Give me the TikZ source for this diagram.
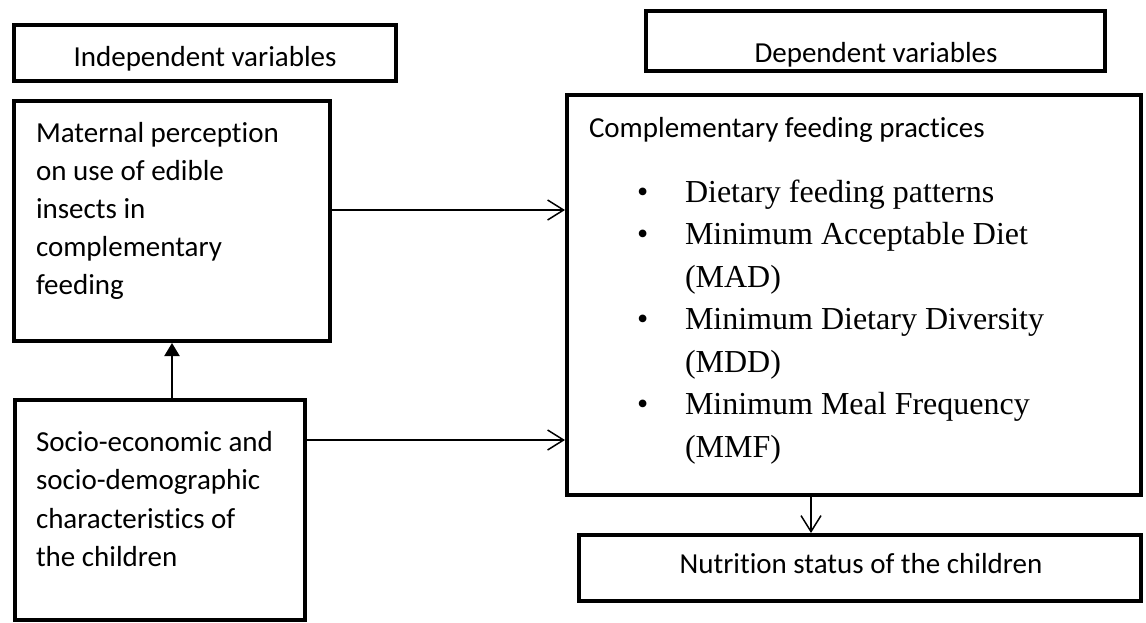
\documentclass[tikz,border=0pt]{standalone}
\usepackage{fontspec}
\setmainfont{Carlito}[Ligatures={NoCommon}]
\newfontfamily\tnr{Liberation Serif}
\usetikzlibrary{arrows.meta}
\begin{document}
\begin{tikzpicture}[x=1pt,y=-1pt,
  box/.style={draw, rectangle, line width=4.5pt, inner sep=0pt, outer sep=0pt, anchor=north west},
  txt/.style={inner sep=0pt, outer sep=0pt, font=\fontsize{29}{38}\selectfont, align=left, anchor=base west},
  lst/.style={inner sep=0pt, outer sep=0pt, font=\tnr\fontsize{32}{42.5}\selectfont, align=left, anchor=base west},
  conn/.style={line width=1.5pt, -{Straight Barb[length=16pt,width=20pt,line width=1.5pt]}, shorten >=2pt},
  upconn/.style={line width=2pt, -{Triangle[length=13pt,width=15pt]}, shorten >=2pt}]
\useasboundingbox (0,0) rectangle (1146,622);
% boxes
\node[box, minimum width=382pt, minimum height=56pt] (indep) at (14,25) {};
\node[box, minimum width=459pt, minimum height=60pt] (dep) at (646,11) {};
\node[box, minimum width=316pt, minimum height=240pt] (mat) at (14,101) {};
\node[box, minimum width=574pt, minimum height=400pt] (comp) at (567,95) {};
\node[box, minimum width=290pt, minimum height=220pt] (socio) at (15,400) {};
\node[box, minimum width=562pt, minimum height=66pt] (nutr) at (579,535) {};
% texts (base anchor of a multi-line node = last line)
\node[txt, anchor=base] (indepT) at (205,66) {Independent variables};
\node[txt, anchor=base] (depT) at (876,62) {Dependent variables};
\node[txt] (matT) at (36,294) {Maternal perception\\on use of edible\\insects in\\complementary\\feeding};
\node[txt, font=\fontsize{29}{38.5}\selectfont] (socT) at (36,566.5) {Socio-economic and\\socio-demographic\\characteristics of\\the children};
\node[txt] (compT) at (589,137) {Complementary feeding practices};
\node[lst] (compL) at (685,457) {Dietary feeding patterns\\Minimum Acceptable Diet\\(MAD)\\Minimum Dietary Diversity\\(MDD)\\Minimum Meal Frequency\\(MMF)};
\node[lst] (b1) at (637,202) {\textbullet};
\node[lst] (b2) at (637,244.5) {\textbullet};
\node[lst] (b3) at (637,329.5) {\textbullet};
\node[lst] (b4) at (637,414.5) {\textbullet};
\node[txt, anchor=base] (nutT) at (861,573) {Nutrition status of the children};
% connectors
\coordinate (a1) at ([yshift=11pt]mat.east);
\draw[conn] (a1) -- (a1 -| comp.west);
\coordinate (a2) at ([yshift=70pt]socio.east);
\draw[conn] (a2) -- (a2 -| comp.west);
\draw[upconn] (socio.north -| mat.south) -- (mat.south);
\coordinate (a3) at ([xshift=-43pt]comp.south);
\draw[conn] (a3) -- (a3 |- nutr.north);
\end{tikzpicture}
\end{document}
